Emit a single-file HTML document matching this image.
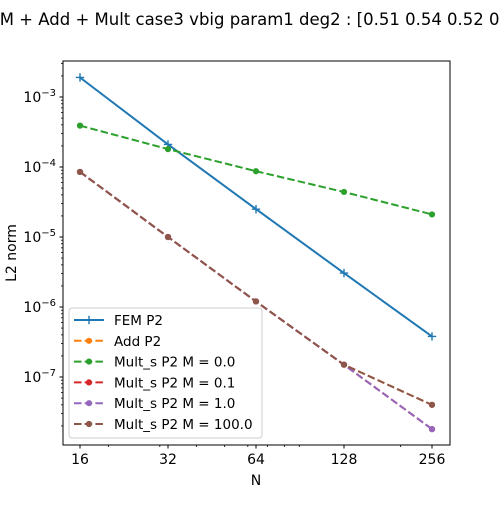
<!DOCTYPE html>
<html><head><meta charset="utf-8"><style>
body{margin:0;background:#fff}
svg text{font-family:"DejaVu Sans","Liberation Sans",sans-serif;fill:#000}
</style></head><body>
<svg id="chart" width="500" height="500" viewBox="0 0 500 500" xmlns="http://www.w3.org/2000/svg">
<rect width="500" height="500" fill="#fff"/>
<text x="256" y="25" font-size="16.5" text-anchor="middle">FEM + Add + Mult case3 vbig param1 deg2 : [0.51 0.54 0.52 0.52]</text>
<g id="plot"></g>
<rect x="63" y="61" width="387" height="384" fill="none" stroke="#000" stroke-width="1"/>
<text x="256" y="485" font-size="14" text-anchor="middle">N</text>
<text transform="translate(12,253) rotate(-90)" font-size="14" text-anchor="middle" dominant-baseline="middle">L2 norm</text>
<g id="legend"></g>
</svg>
<script>
const categories=[16,32,64,128,256];
const xTickLabels=["16","32","64","128","256"];
const femP2=[1.9e-3,2.1e-4,2.5e-5,3.05e-6,3.8e-7];
const addP2=[8.5e-5,1.0e-5,1.2e-6,1.5e-7,4.0e-8];
const multM0=[3.9e-4,1.8e-4,8.7e-5,4.4e-5,2.1e-5];
const multM01=[8.5e-5,1.0e-5,1.2e-6,1.5e-7,1.8e-8];
const multM1=[8.5e-5,1.0e-5,1.2e-6,1.5e-7,1.8e-8];
const multM100=[8.5e-5,1.0e-5,1.2e-6,1.5e-7,4.0e-8];
const yTickExps=[-7,-6,-5,-4,-3];
const seriesNames=["FEM P2","Add P2","Mult_s P2 M = 0.0","Mult_s P2 M = 0.1","Mult_s P2 M = 1.0","Mult_s P2 M = 100.0"];

const NS="http://www.w3.org/2000/svg";
const X0=63,X1=450,Y0=61,Y1=445;
function xs(v){return 80+Math.log2(v/16)*88;}
function ys(v){return 97-(Math.log10(v)+3)*70;}
function mk(tag,attrs,parent){const e=document.createElementNS(NS,tag);for(const k in attrs)e.setAttribute(k,attrs[k]);parent.appendChild(e);return e;}
const plot=document.getElementById('plot');
const svg=document.getElementById('chart');
categories.forEach((c,i)=>{
  const x=xs(c);
  const t=mk('line',{x1:x,x2:x,y1:Y1,y2:Y1+3.5,stroke:'#000'},svg);
  
  
  const l=mk('text',{x:x,y:Y1+19,'font-size':'14','text-anchor':'middle'},svg);
  l.textContent=xTickLabels[i];
  
  
});
[20,30,40,50,60,70,80,90,200].forEach(v=>{
  const x=xs(v);
  const t=mk('line',{x1:x,x2:x,y1:Y1,y2:Y1+2,stroke:'#000','stroke-width':0.8},svg);
  
  
});
yTickExps.forEach(e=>{
  const y=ys(Math.pow(10,e));
  const t=mk('line',{x1:X0-3.5,x2:X0,y1:y,y2:y,stroke:'#000'},svg);
  
  
  const l=mk('text',{x:X0-7,y:y+5,'font-size':'14','text-anchor':'end'},svg);
  l.innerHTML='10<tspan dy="-6" font-size="10">−'+(-e)+'</tspan>';
  
  
  for(let m=2;m<=9;m++){
    const v=m*Math.pow(10,e);const yy=ys(v);
    if(yy<Y0||yy>Y1)continue;
    const mt=mk('line',{x1:X0-2,x2:X0,y1:yy,y2:yy,stroke:'#000','stroke-width':0.8},svg);
    
    
  }
});
[2,3,4,5,6,7,8,9].forEach(m=>{const v=m*1e-8;const yy=ys(v);if(yy>=Y0&&yy<=Y1){const mt=mk('line',{x1:X0-2,x2:X0,y1:yy,y2:yy,stroke:'#000','stroke-width':0.8},svg);}});
const DASH='7.5,3.2';
const series=[
 {d:femP2,c:'#1f77b4',dash:'',m:'plus',n:'fem-p2'},
 {d:addP2,c:'#ff7f0e',dash:DASH,m:'dot',n:'add-p2'},
 {d:multM0,c:'#2ca02c',dash:DASH,m:'dot',n:'mult-m0'},
 {d:multM01,c:'#d62728',dash:DASH,m:'dot',n:'mult-m01'},
 {d:multM1,c:'#9467bd',dash:DASH,m:'dot',n:'mult-m1'},
 {d:multM100,c:'#8c564b',dash:DASH,m:'dot',n:'mult-m100'}
];
function marker(kind,x,y,c,parent){
  if(kind==='plus'){
    return mk('path',{d:`M${x-4.2},${y}H${x+4.2}M${x},${y-4.2}V${y+4.2}`,stroke:c,'stroke-width':1.4},parent);
  }
  return mk('circle',{cx:x,cy:y,r:3.1,fill:c},parent);
}
series.forEach(s=>{
  const g=mk('g',{},plot);
  
  
  const pts=s.d.map((v,i)=>xs(categories[i]).toFixed(1)+','+ys(v).toFixed(1)).join(' ');
  const pl=mk('polyline',{points:pts,fill:'none',stroke:s.c,'stroke-width':2,'stroke-dasharray':s.dash},g);
  
  
  s.d.forEach((v,i)=>{
    const p=marker(s.m,xs(categories[i]),ys(v),s.c,g);
    
    
  });
});
const lg=document.getElementById('legend');
const box=mk('rect',{x:69,y:308,width:193,height:130,rx:3,fill:'#fff','fill-opacity':0.8,stroke:'#ccc'},lg);


series.forEach((s,i)=>{
  const y=320+i*20.8;
  const g=mk('g',{},lg);
  
  
  mk('line',{x1:74,x2:104,y1:y,y2:y,stroke:s.c,'stroke-width':2,'stroke-dasharray':s.dash},g);
  marker(s.m,89,y,s.c,g);
  const t=mk('text',{x:114,y:y+5,'font-size':'13.5'},g);
  t.textContent=seriesNames[i];
});
</script>
</body></html>
